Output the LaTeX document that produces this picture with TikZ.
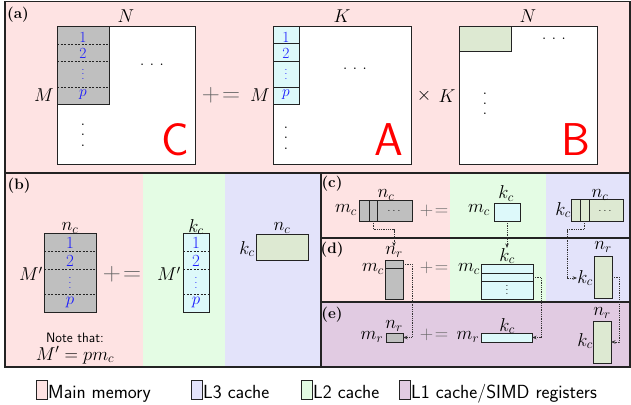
\RequirePackage{fix-cm}
\documentclass[tikz,border=0pt]{standalone}
\usetikzlibrary{arrows.meta}
\definecolor{pinkbg}{RGB}{254,227,227}
\definecolor{greenbg}{RGB}{228,252,228}
\definecolor{bluebg}{RGB}{227,227,250}
\definecolor{purplebg}{RGB}{225,203,226}
\definecolor{grayfill}{RGB}{191,191,191}
\definecolor{cyanfill}{RGB}{221,249,250}
\definecolor{greenfill}{RGB}{221,233,210}
\definecolor{edge}{RGB}{35,35,35}
\definecolor{numblue}{RGB}{25,25,255}
\newcommand{\boxnode}[6]{\node[#6,minimum width={(#4-#2)*1pt},minimum height={(#5-#3)*1pt}] (#1) at (#2,#3) {};}
\newcommand{\vdt}[1]{\vbox{\baselineskip=#1\lineskiplimit=0pt\hbox{.}\hbox{.}\hbox{.}}}
\newcommand{\hdt}[1]{.\kern#1.\kern#1.}
\newcommand{\pleq}{${+}\mkern1.5mu{=}$}
\begin{document}
\begin{tikzpicture}[x=1pt,y=-1pt,
  mat/.style={draw=edge,line width=1pt,inner sep=0pt,outer sep=0pt,anchor=north west},
  lbl/.style={inner sep=0pt,font=\fontsize{18.6}{22}\selectfont},
  blu/.style={inner sep=0pt,text=numblue,font=\fontsize{15.5}{18}\selectfont},
  blub/.style={inner sep=0pt,text=numblue,font=\fontsize{17}{20}\selectfont},
  bluv/.style={inner sep=0pt,text=numblue,font=\fontsize{10}{10}\selectfont},
  smalldots/.style={inner sep=0pt,font=\fontsize{10}{10}\selectfont},
  pe/.style={inner sep=0pt,text=black!60,font=\fontsize{25}{28}\selectfont},
  pes/.style={inner sep=0pt,text=black!60,font=\fontsize{18.6}{22}\selectfont},
  bigletter/.style={inner sep=0pt,text=red,font=\fontsize{46}{46}\sffamily},
  tag/.style={inner sep=0pt,font=\fontsize{15.2}{18}\bfseries},
  leg/.style={inner sep=0pt,anchor=base west,font=\fontsize{19}{22}\sffamily},
  note/.style={inner sep=0pt,font=\fontsize{13.6}{16}\sffamily},
  legbox/.style={draw=edge,line width=0.8pt},
  panel/.style={draw=edge,line width=1.5pt},
  sep/.style={draw=edge,line width=0.7pt,dash pattern=on 2pt off 1.5pt},
  solidsep/.style={draw=edge,line width=1pt},
  conn/.style={draw=black!80,line width=0.8pt,densely dotted,-{Stealth[length=4.5pt,width=3.5pt]}},
]
\useasboundingbox (0,0) rectangle (631,404);
% backgrounds
\fill[pinkbg] (5,1.5) rectangle (630,173);
\fill[pinkbg] (5,173) rectangle (143,367);
\fill[greenbg] (143,173) rectangle (225,367);
\fill[bluebg] (225,173) rectangle (321,367);
\fill[pinkbg] (321,173) rectangle (450,302);
\fill[greenbg] (450,173) rectangle (546,302);
\fill[bluebg] (546,173) rectangle (630,302);
\fill[purplebg] (321,302) rectangle (630,367);
\draw[panel] (5,1.5) rectangle (630,367);
\draw[panel] (5,173) -- (630,173);
\draw[panel] (321,173) -- (321,367);
\draw[panel] (321,238) -- (630,238);
\draw[panel] (321,302) -- (630,302);

% ---------- (a)
\node[tag] (ta) at (18,15) {(a)};
\boxnode{Cm}{57}{27}{195}{164}{mat,fill=white}
\boxnode{Cb}{57}{27}{109}{104}{mat,fill=grayfill}
\draw[sep] (57,44) -- (109,44);
\draw[sep] (57,61) -- (109,61);
\draw[sep] (57,87) -- (109,87);
\node[blu] (c1) at (83,37) {1};
\node[blu] (c2) at (83,53) {2};
\node[bluv] (c3) at (83,74) {\vdt{4.5pt}};
\node[blu] (c4) at (83,95) {$p$};
\node[lbl] (aN1) at (126,16) {$N$};
\node[lbl] (aM1) at (44,95) {$M$};
\node[lbl] (ad1) at (152,65) {\hdt{5.1pt}};
\node[lbl] (av1) at (83,135) {\vdt{10.3pt}};
\node[bigletter] (lC) at (175,140) {C};
\node[pe] (pe1) at (221,95) {\pleq};
\node[lbl] (aM2) at (260,95) {$M$};
\boxnode{Am}{273}{27}{411}{164}{mat,fill=white}
\boxnode{A1}{273}{27}{299}{44}{mat,fill=cyanfill}
\boxnode{A2}{273}{44}{299}{61}{mat,fill=cyanfill}
\boxnode{A3}{273}{61}{299}{87}{mat,fill=cyanfill}
\boxnode{A4}{273}{87}{299}{104}{mat,fill=cyanfill}
\node[blu] (a1) at (286,37) {1};
\node[blu] (a2) at (286,53) {2};
\node[bluv] (a3) at (286,74) {\vdt{4.5pt}};
\node[blu] (a4) at (286,95) {$p$};
\node[lbl] (aK1) at (342,16) {$K$};
\node[lbl] (ad2) at (355,69) {\hdt{5.1pt}};
\node[lbl] (av2) at (286,138) {\vdt{10.5pt}};
\node[bigletter] (lA) at (389,140) {A};
\node[lbl] (tx) at (424,96) {$\times$};
\node[lbl] (aK2) at (447,96) {$K$};
\boxnode{Bm}{459}{27}{597}{164}{mat,fill=white}
\boxnode{Bb}{459}{27}{511}{52}{mat,fill=greenfill}
\node[lbl] (aN2) at (528,16) {$N$};
\node[lbl] (ad3) at (554,39) {\hdt{5.1pt}};
\node[lbl] (av3) at (485,104) {\vdt{10.2pt}};
\node[bigletter] (lB) at (576,140) {B};

% ---------- (b)
\node[tag] (tb) at (19,186) {(b)};
\boxnode{bg}{44}{233}{96}{312}{mat,fill=grayfill}
\draw[sep] (44,251) -- (96,251);
\draw[sep] (44,269) -- (96,269);
\draw[sep] (44,294) -- (96,294);
\node[blub] (bg1) at (70,242.5) {1};
\node[blub] (bg2) at (70,261) {2};
\node[bluv] (bg3) at (70,283) {\vdt{4.7pt}};
\node[blub] (bg4) at (70,302) {$p$};
\node[lbl] (bnc1) at (70,228) {$n_c$};
\node[lbl] (bM1) at (31,274) {$M'$};
\node[pe] (pe2) at (122,274) {\pleq};
\boxnode{bc}{183}{233}{209}{312}{mat,fill=cyanfill}
\draw[sep] (183,251) -- (209,251);
\draw[sep] (183,269) -- (209,269);
\draw[sep] (183,294) -- (209,294);
\node[blub] (bc1) at (196,242.5) {1};
\node[blub] (bc2) at (196,261) {2};
\node[bluv] (bc3) at (196,283) {\vdt{4.7pt}};
\node[blub] (bc4) at (196,302) {$p$};
\node[lbl] (bkc1) at (196,227) {$k_c$};
\node[lbl] (bM2) at (169,274) {$M'$};
\boxnode{bgr}{256}{234}{308}{260}{mat,fill=greenfill}
\node[lbl] (bnc2) at (282,228) {$n_c$};
\node[lbl] (bkc2) at (247,249) {$k_c$};
\node[note] (nt) at (75,338) {Note that:};
\node[lbl] (eq) at (75,355) {$M'=pm_c$};

% ---------- (c)
\node[tag] (tc) at (332,184) {(c)};
\boxnode{cg}{359}{200.5}{412}{221}{mat,fill=grayfill}
\draw[solidsep] (369,200.5) -- (369,221);
\draw[solidsep] (377,200.5) -- (377,221);
\node[smalldots] (cdt1) at (394,211) {\hdt{2.2pt}};
\coordinate (cg2) at (373,221);
\node[lbl] (cnc1) at (386,195) {$n_c$};
\node[lbl] (cmc1) at (346,210) {$m_c$};
\node[pes] (pe3) at (434,211) {\pleq};
\boxnode{cc}{494}{203}{520}{221}{mat,fill=cyanfill}
\node[lbl] (ckc1) at (506,193.5) {$k_c$};
\node[lbl] (cmc2) at (479,210) {$m_c$};
\boxnode{cgr}{571}{199.5}{623}{221}{mat,fill=greenfill}
\draw[solidsep] (580,199.5) -- (580,221);
\draw[solidsep] (589,199.5) -- (589,221);
\node[smalldots] (cdt2) at (605,211) {\hdt{2.2pt}};
\coordinate (cgr2) at (584.5,221);
\node[lbl] (cnc2) at (600,195) {$n_c$};
\node[lbl] (ckc2) at (563,210) {$k_c$};

% ---------- (d)
\node[tag] (td) at (332,250) {(d)};
\boxnode{dg}{385}{260}{403}{299}{mat,fill=grayfill}
\draw[solidsep] (385,268) -- (403,268);
\coordinate (dg1) at (403,264);
\node[lbl] (dnr1) at (394,252) {$n_r$};
\node[lbl] (dmc1) at (373,269) {$m_c$};
\node[pes] (pe4) at (434,268) {\pleq};
\boxnode{dc}{481}{264}{533}{299}{mat,fill=cyanfill}
\draw[solidsep] (481,273) -- (533,273);
\draw[solidsep] (481,281) -- (533,281);
\node[smalldots] (ddt) at (507,290) {\vdt{4.2pt}};
\coordinate (dc2) at (533,277);
\node[lbl] (dkc1) at (507,256) {$k_c$};
\node[lbl] (dmc2) at (469,269) {$m_c$};
\boxnode{dgr}{594}{256}{612}{298}{mat,fill=greenfill}
\node[lbl] (dnr2) at (603,247) {$n_r$};
\node[lbl] (dkc2) at (585,278) {$k_c$};

% ---------- (e)
\node[tag] (te) at (332,315) {(e)};
\boxnode{eg}{386}{333}{403}{342}{mat,fill=grayfill}
\node[lbl] (enr1) at (394,326) {$n_r$};
\node[lbl] (emr1) at (372,337) {$m_r$};
\node[pes] (pe5) at (434,335) {\pleq};
\boxnode{ec}{481}{333}{532}{342}{mat,fill=cyanfill}
\node[lbl] (ekc1) at (507,326) {$k_c$};
\node[lbl] (emr2) at (468,337) {$m_r$};
\boxnode{egr}{593}{321}{611}{363}{mat,fill=greenfill}
\node[lbl] (enr2) at (602,313) {$n_r$};
\node[lbl] (ekc2) at (585,341) {$k_c$};

% ---------- connectors
\draw[conn] (cg2) -- ++(0,8.5) -| (dnr1.north);
\draw[conn] (cc.south) -- (dkc1.north);
\draw[conn] (cgr2) -- ++(0,8.5) -| ([xshift=-10pt]dkc2.west) -- (dkc2.west);
\draw[conn] (dg1) -- ++(9,0) |- (eg.east);
\draw[conn] (dc2) -- ++(8,0) |- (ec.east);
\draw[conn] (dgr.east) -- ++(7,0) |- (egr.east);

% ---------- legend
\draw[legbox,fill=pinkbg] (36.2,380.3) rectangle (47.5,399.2);
\node[leg] (lg1) at (48,398) {Main memory};
\draw[legbox,fill=bluebg] (191.1,380.3) rectangle (202.4,399.2);
\node[leg] (lg2) at (203,398) {L3 cache};
\draw[legbox,fill=greenbg] (301,380.3) rectangle (312.3,399.2);
\node[leg] (lg3) at (313,398) {L2 cache};
\draw[legbox,fill=purplebg] (399.6,380.3) rectangle (410.5,399.2);
\node[leg] (lg4) at (411,398) {L1 cache/SIMD registers};
\end{tikzpicture}
\end{document}
